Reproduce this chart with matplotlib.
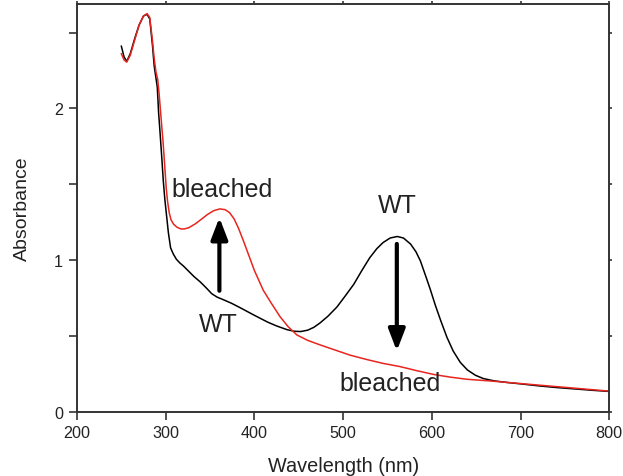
import matplotlib.pyplot as plt

plt.rcParams['font.family'] = ['Liberation Sans', 'DejaVu Sans']

# WT spectrum (black)
wt_nm = [250, 253, 256, 260, 265, 270, 275, 279, 282, 285, 287, 289, 290.5, 292,
         293.5, 295.5, 297.3, 299, 301, 303, 305.5, 308.5, 312, 316, 320, 326, 332, 339, 345,
         352, 358, 365, 374, 384, 400, 415, 425, 437, 445, 452, 460, 467, 474, 483, 493,
         502, 512, 521, 530, 538, 545, 553, 561, 568, 576, 582, 587, 593, 598, 604, 610,
         617, 624, 632, 640, 649, 658, 670, 685, 700, 720, 740, 760, 780, 800]
wt_abs = [2.41, 2.34, 2.31, 2.36, 2.46, 2.55, 2.61, 2.62, 2.59, 2.42, 2.28, 2.20, 2.14, 1.97,
          1.85, 1.68, 1.52, 1.40, 1.29, 1.18, 1.08, 1.04, 1.005, 0.98, 0.96, 0.925, 0.89, 0.855, 0.82,
          0.777, 0.755, 0.738, 0.715, 0.685, 0.635, 0.59, 0.565, 0.54, 0.53, 0.528, 0.537, 0.556, 0.585, 0.63, 0.69,
          0.76, 0.84, 0.93, 1.015, 1.075, 1.115, 1.145, 1.155, 1.145, 1.105, 1.055, 0.995, 0.895, 0.81, 0.70, 0.60,
          0.49, 0.40, 0.325, 0.275, 0.24, 0.218, 0.203, 0.192, 0.183, 0.17, 0.159, 0.15, 0.141, 0.133]

# bleached spectrum (red)
bl_nm = [250, 253, 256, 260, 265, 270, 275, 279, 282, 285, 287, 289, 291, 292.5,
         295, 297, 299, 300.5, 302, 304, 306, 309, 313, 317, 321, 326, 333, 340, 347, 354,
         361, 367, 372, 377, 382, 388, 394, 400, 405, 410, 419, 429, 438, 448, 460, 474, 489,
         508, 527, 545, 564, 583, 602, 620, 640, 666, 700, 730, 760, 800]
bl_abs = [2.36, 2.32, 2.305, 2.35, 2.45, 2.55, 2.61, 2.625, 2.60, 2.45, 2.33, 2.24, 2.19, 2.10,
          1.92, 1.78, 1.61, 1.48, 1.39, 1.31, 1.265, 1.235, 1.215, 1.205, 1.205, 1.213, 1.237, 1.268, 1.30, 1.325,
          1.337, 1.332, 1.312, 1.272, 1.21, 1.12, 1.025, 0.93, 0.865, 0.80, 0.715, 0.625, 0.56, 0.505, 0.47, 0.44, 0.41,
          0.372, 0.343, 0.318, 0.297, 0.27, 0.245, 0.228, 0.213, 0.202, 0.185, 0.17, 0.155, 0.135]

fig = plt.figure(figsize=(6.23, 4.77), dpi=100)
ax = fig.add_axes([0.1236, 0.135, 0.8544, 0.855])

ax.plot(wt_nm, wt_abs, color='black', lw=1.1)
ax.plot(bl_nm, bl_abs, color='#e8251f', lw=1.1)

arrow = dict(arrowstyle='-|>,head_length=1.3,head_width=0.5', lw=3, color='black',
             shrinkA=0, shrinkB=0, mutation_scale=10)
ax.annotate('', xy=(360.5, 1.28), xytext=(360.5, 0.797), arrowprops=arrow)
ax.annotate('', xy=(560.5, 0.40), xytext=(560.5, 1.106), arrowprops=arrow)

ax.text(363.5, 1.47, 'bleached', fontsize=18, ha='center', va='center', color='#222222')
ax.text(359, 0.58, 'WT', fontsize=18, ha='center', va='center', color='#222222')
ax.text(561, 1.36, 'WT', fontsize=18, ha='center', va='center', color='#222222')
ax.text(553, 0.19, 'bleached', fontsize=18, ha='center', va='center', color='#222222')

ax.set_xlim(200, 800)
ax.set_ylim(0, 2.69)
ax.set_xticks(range(200, 801, 100))
ax.set_yticks([0, 0.5, 1, 1.5, 2, 2.5])
ax.set_yticklabels(['0', '', '1', '', '2', ''])
ax.set_xlabel('Wavelength (nm)', fontsize=14.3, color='#222222', labelpad=11)
ax.set_ylabel('Absorbance', fontsize=14, color='#222222', labelpad=17)

for s in ax.spines.values():
    s.set_color('#333333')
    s.set_linewidth(1.4)
ax.tick_params(axis='both', direction='out', length=6, width=1.2, color='#333333',
               labelsize=11.6, labelcolor='#222222', pad=4)
ax.tick_params(which='both', top=True, right=True)
for t in ax.xaxis.get_major_ticks():
    t.tick2line.set_markersize(2)
for t in ax.yaxis.get_major_ticks():
    t.tick2line.set_markersize(2)

fig.savefig('out.png', dpi=100)
